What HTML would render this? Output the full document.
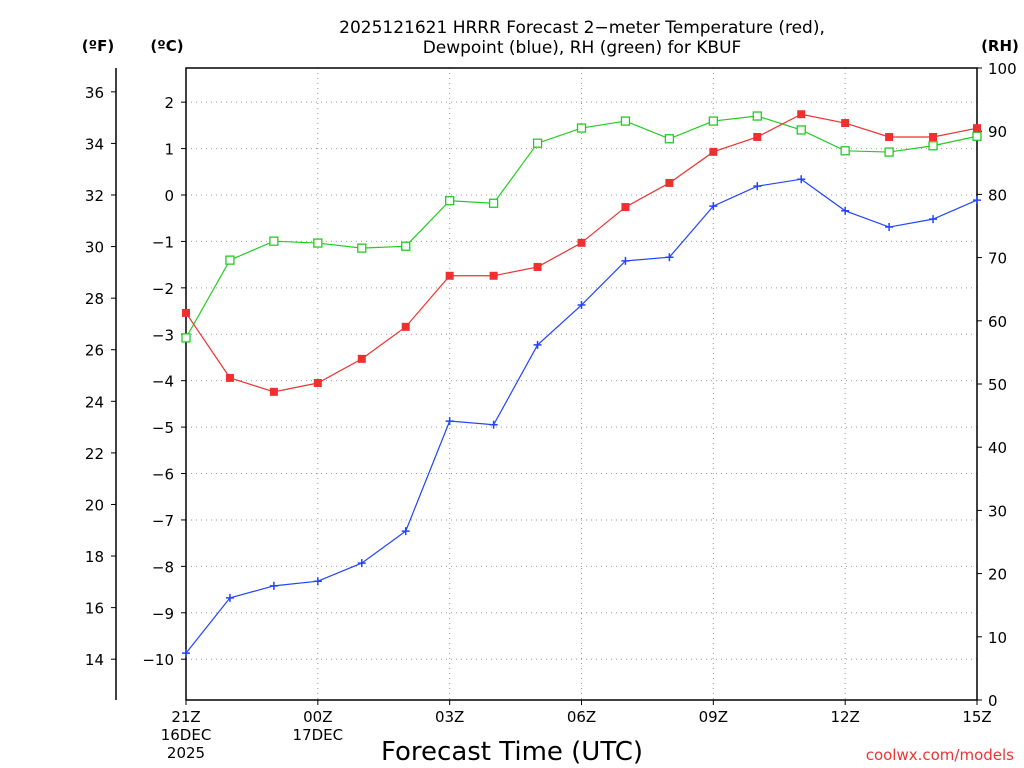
<!DOCTYPE html>
<html><head><meta charset="utf-8"><style>
body{margin:0;background:#fff;}
svg{display:block;font-family:"DejaVu Sans","Liberation Sans",sans-serif;}
</style></head><body>
<svg id="c" width="1024" height="768"></svg>
<script>
const hours=[0,1,2,3,4,5,6,7,8,9,10,11,12,13,14,15,16,17,18];
const tempC=[-2.54,-3.94,-4.24,-4.05,-3.53,-2.84,-1.74,-1.74,-1.55,-1.03,-0.26,0.26,0.93,1.25,1.74,1.55,1.25,1.25,1.44];
const dewC=[-9.87,-8.68,-8.42,-8.32,-7.93,-7.24,-4.87,-4.95,-3.23,-2.37,-1.42,-1.34,-0.24,0.19,0.34,-0.34,-0.69,-0.52,-0.11];
const rh=[57.3,69.6,72.6,72.3,71.5,71.8,79.0,78.6,88.1,90.5,91.6,88.8,91.6,92.4,90.2,86.9,86.7,87.7,89.2];
const cTicks=[2,1,0,-1,-2,-3,-4,-5,-6,-7,-8,-9,-10];
const fTicks=[36,34,32,30,28,26,24,22,20,18,16,14];
const rhTicks=[0,10,20,30,40,50,60,70,80,90,100];
const xTicks=[0,3,6,9,12,15,18];
const xLabels=["21Z","00Z","03Z","06Z","09Z","12Z","15Z"];

const L=186,R=977,T=68,B=700;
const X=h=>L+h*(R-L)/18;
const YC=c=>195-c*46.42;
const YF=f=>YC((f-32)*5/9);
const YR=r=>B-r*(B-T)/100;
const svg=document.getElementById('c');
const NS='http://www.w3.org/2000/svg';
function mk(t,a,p){const e=document.createElementNS(NS,t);for(const k in a)e.setAttribute(k,a[k]);(p||svg).appendChild(e);return e;}
function txt(x,y,s,anchor,size,fill){const e=mk('text',{x:x,y:y,'text-anchor':anchor||'middle','font-size':size||15,fill:fill||'#000'});e.textContent=s;return e;}

// grid
cTicks.forEach(c=>{const e=mk('line',{x1:L,x2:R,y1:YC(c),y2:YC(c),stroke:'#999','stroke-dasharray':'1,4'});

});
xTicks.forEach(h=>{if(h>0&&h<18){const e=mk('line',{x1:X(h),x2:X(h),y1:T,y2:B,stroke:'#999','stroke-dasharray':'1,4'});

}});
// frame
const fr=mk('rect',{x:L,y:T,width:R-L,height:B-T,fill:'none',stroke:'#000','stroke-width':1.5});


// F axis
mk('line',{x1:116,x2:116,y1:T,y2:B,stroke:'#000','stroke-width':1.5});
fTicks.forEach(f=>{mk('line',{x1:111,x2:116,y1:YF(f),y2:YF(f),stroke:'#000'});
const t=txt(104,YF(f)+6,f,'end',15);

});
cTicks.forEach(c=>{mk('line',{x1:L-5,x2:L,y1:YC(c),y2:YC(c),stroke:'#000'});
const t=txt(174,YC(c)+6,(c<0?'\u2212':'')+Math.abs(c),'end',15);

});
rhTicks.forEach(r=>{mk('line',{x1:R,x2:R+5,y1:YR(r),y2:YR(r),stroke:'#000'});
const t=txt(988,YR(r)+6,r,'start',15);

});
xTicks.forEach((h,i)=>{mk('line',{x1:X(h),x2:X(h),y1:B,y2:B+5,stroke:'#000'});
const t=txt(X(h),B+22,xLabels[i],'middle',15);

});
txt(X(0),B+40,'16DEC','middle',15);txt(X(0),B+58,'2025','middle',15);
txt(X(3),B+40,'17DEC','middle',15);
txt(98,51,'(ºF)','middle',15).setAttribute('font-weight','bold');
txt(167,51,'(ºC)','middle',15).setAttribute('font-weight','bold');
txt(1000,51,'(RH)','middle',15).setAttribute('font-weight','bold');
txt(582,33,'2025121621 HRRR Forecast 2\u2212meter Temperature (red),','middle',17);
txt(582,53,'Dewpoint (blue), RH (green) for KBUF','middle',17);
const xt=txt(512,760,'Forecast Time (UTC)','middle',26);

txt(1014,760,'coolwx.com/models','end',15,'#e33');

function series(vals,yf,color,marker,name){
 const pts=vals.map((v,i)=>X(hours[i])+','+yf(v)).join(' ');
 const pl=mk('polyline',{points:pts,fill:'none',stroke:color,'stroke-width':1.2});
 
 
 vals.forEach((v,i)=>{const x=X(hours[i]),y=yf(v);let m;
  if(marker==='fill')m=mk('rect',{x:x-4,y:y-4,width:8,height:8,fill:color});
  else if(marker==='open')m=mk('rect',{x:x-4,y:y-4,width:8,height:8,fill:'#fff',stroke:color,'stroke-width':1.3});
  else m=mk('path',{d:`M${x-4},${y}H${x+4}M${x},${y-4}V${y+4}`,stroke:color,'stroke-width':1.5});
  
  });
}
series(rh,YR,'#22cc22','open','rh');
series(tempC,YC,'#f03030','fill','temperature');
series(dewC,YC,'#2244ff','plus','dewpoint');
</script>
</body></html>
